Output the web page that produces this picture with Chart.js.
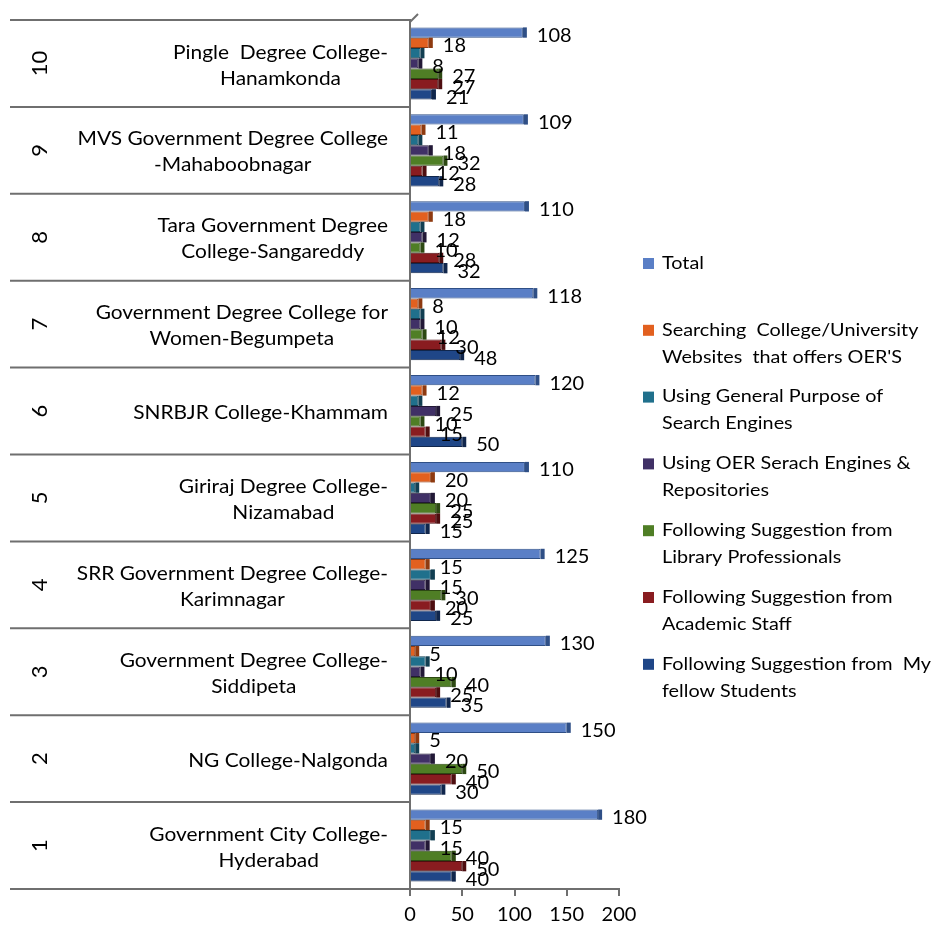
<!DOCTYPE html>
<html>
<head>
<meta charset="utf-8">
<title>OER search methods by college</title>
<script src="https://cdn.jsdelivr.net/npm/chart.js@4.4.1/dist/chart.umd.min.js"></script>
<style>
  html, body { margin: 0; padding: 0; background: #fff; }
  #wrap { width: 937px; height: 933px; }
</style>
</head>
<body>
<div id="wrap"><canvas id="chart" width="937" height="933"></canvas></div>
<script>
'use strict';

// categories, bottom (1) to top (10)
var ranks = ['1', '2', '3', '4', '5', '6', '7', '8', '9', '10'];
var colleges = [
    ['Government City College-', 'Hyderabad'],
    ['NG College-Nalgonda'],
    ['Government Degree College-', 'Siddipeta'],
    ['SRR Government Degree College-', 'Karimnagar'],
    ['Giriraj Degree College-', 'Nizamabad'],
    ['SNRBJR College-Khammam'],
    ['Government Degree College for', 'Women-Begumpeta'],
    ['Tara Government Degree', 'College-Sangareddy'],
    ['MVS Government Degree College', '-Mahaboobnagar'],
    ['Pingle  Degree College-', 'Hanamkonda']
];

// series values, same order as ranks
var total     = [180, 150, 130, 125, 110, 120, 118, 110, 109, 108];
var searching = [15, 5, 5, 15, 20, 12, 8, 18, 11, 18];
var general   = [20, 5, 15, 20, 5, 8, 10, 10, 8, 10];
var oerEngine = [15, 20, 10, 15, 20, 25, 10, 12, 18, 8];
var library   = [40, 50, 40, 30, 25, 10, 12, 10, 32, 27];
var academic  = [50, 40, 25, 20, 25, 15, 30, 28, 12, 27];
var fellow    = [40, 30, 35, 25, 15, 50, 48, 32, 28, 21];

var seriesNames = [
    ['Total'],
    ['Searching  College/University', 'Websites  that offers OER\'S'],
    ['Using General Purpose of', 'Search Engines'],
    ['Using OER Serach Engines &', 'Repositories'],
    ['Following Suggestion from', 'Library Professionals'],
    ['Following Suggestion from', 'Academic Staff'],
    ['Following Suggestion from  My', 'fellow Students']
];
var seriesValues = [total, searching, general, oerEngine, library, academic, fellow];
var seriesColors = ['#5a7fc6', '#e2601f', '#20708c', '#403066', '#4f7e25', '#891c20', '#1f4687'];
var seriesEdges  = ['#2f4f86', '#8e3a10', '#123f52', '#221836', '#2d4913', '#4e0e10', '#10264c'];
var seriesLabelled = [true, true, false, true, true, true, true];

var xTicks = [0, 50, 100, 150, 200];

var FONT = 'Lato, "Open Sans", sans-serif';
var STRETCH = 1.1; // the source text is a bit wide

function wideText(ctx, text, x, y, align) {
    ctx.save();
    ctx.translate(x, y);
    ctx.scale(STRETCH, 1);
    ctx.textAlign = align;
    ctx.fillText(text, 0, 0);
    ctx.restore();
}

// left side table: rotated rank, college name, separators
var categoryTable = {
    id: 'categoryTable',
    afterDraw: function(chart) {
        var ctx = chart.ctx;
        var y = chart.scales.y;
        var area = chart.chartArea;
        var step = Math.abs(y.getPixelForValue(1) - y.getPixelForValue(0));
        ctx.save();
        ctx.strokeStyle = '#6f6f6f';
        ctx.lineWidth = 2;
        for (var i = 0; i < ranks.length; i++) {
            var cy = y.getPixelForValue(i);
            ctx.beginPath();
            ctx.moveTo(10, cy - step / 2);
            ctx.lineTo(area.left, cy - step / 2);
            ctx.stroke();
            if (i === 0) {
                ctx.beginPath();
                ctx.moveTo(10, cy + step / 2);
                ctx.lineTo(area.left, cy + step / 2);
                ctx.stroke();
            }

            ctx.fillStyle = '#000';
            ctx.textBaseline = 'middle';
            ctx.font = '22px ' + FONT;
            ctx.save();
            ctx.translate(40, cy);
            ctx.rotate(-Math.PI / 2);
            ctx.textAlign = 'center';
            ctx.fillText(ranks[i], 0, 0);
            ctx.restore();

            ctx.font = '19px ' + FONT;
            var lines = colleges[i];
            var wMax = 0;
            lines.forEach(function(l) { wMax = Math.max(wMax, ctx.measureText(l).width * STRETCH); });
            var cx = 388 - wMax / 2;
            var lh = 26;
            var y0 = cy + 2 - (lines.length - 1) * lh / 2;
            lines.forEach(function(l, k) { wideText(ctx, l, cx, y0 + k * lh, 'center'); });
        }
        // little 3D corner at the top of the wall
        ctx.beginPath();
        ctx.moveTo(area.left, area.top + 2);
        ctx.lineTo(area.left + 8, area.top - 6);
        ctx.stroke();
        ctx.restore();
    }
};

// darker end caps (3D look) and value labels next to bars
var valueLabels = {
    id: 'valueLabels',
    afterDatasetsDraw: function(chart) {
        var ctx = chart.ctx;
        ctx.save();
        chart.data.datasets.forEach(function(ds, di) {
            chart.getDatasetMeta(di).data.forEach(function(bar) {
                var h = bar.height;
                ctx.fillStyle = seriesEdges[di];
                ctx.fillRect(bar.x, bar.y - h / 2, 4, h);
            });
        });
        ctx.fillStyle = '#000';
        ctx.font = '20px ' + FONT;
        ctx.textAlign = 'left';
        ctx.textBaseline = 'middle';
        chart.data.datasets.forEach(function(ds, di) {
            if (!seriesLabelled[di]) return;
            chart.getDatasetMeta(di).data.forEach(function(bar, i) {
                ctx.fillText(ds.data[i], bar.x + 14, bar.y + 3);
            });
        });
        ctx.restore();
    }
};

// legend on the right with wrapped names
var sideLegend = {
    id: 'sideLegend',
    afterDraw: function(chart) {
        var ctx = chart.ctx;
        ctx.save();
        ctx.font = '18px ' + FONT;
        ctx.textBaseline = 'middle';
        seriesNames.forEach(function(lines, i) {
            var y = 263 + i * 66.8;
            ctx.fillStyle = seriesColors[i];
            ctx.fillRect(643, y - 5, 11, 11);
            ctx.fillStyle = '#000';
            lines.forEach(function(l, k) { wideText(ctx, l, 662, y + k * 27, 'left'); });
        });
        ctx.restore();
    }
};

var datasets = seriesValues.map(function(vals, i) {
    return {
        label: seriesNames[i].join(' '),
        data: vals,
        backgroundColor: seriesColors[i],
        borderColor: seriesEdges[i],
        borderWidth: { top: 1, bottom: 1, right: 1, left: 0 },
        borderSkipped: 'left',
        barPercentage: 1.0,
        categoryPercentage: 0.83
    };
});

new Chart(document.getElementById('chart'), {
    type: 'bar',
    data: { labels: ranks, datasets: datasets },
    options: {
        indexAxis: 'y',
        responsive: false,
        animation: false,
        layout: { padding: { left: 10, top: 20, right: 318, bottom: 0 } },
        plugins: {
            legend: { display: false },
            tooltip: { enabled: false }
        },
        scales: {
            x: {
                min: 0,
                max: 200,
                afterBuildTicks: function(scale) {
                    scale.ticks = xTicks.map(function(v) { return { value: v }; });
                },
                afterFit: function(scale) { scale.height = 44; },
                grid: { drawOnChartArea: false, color: '#6f6f6f', lineWidth: 2, tickLength: 7 },
                border: { display: true, color: '#6f6f6f', width: 2 },
                ticks: { color: '#000', font: { family: FONT, size: 20 }, padding: 7 }
            },
            y: {
                reverse: true,
                afterFit: function(scale) { scale.width = 400; },
                grid: { display: false },
                border: { display: true, color: '#6f6f6f', width: 2 },
                ticks: { display: false }
            }
        }
    },
    plugins: [categoryTable, valueLabels, sideLegend]
});
</script>
</body>
</html>
